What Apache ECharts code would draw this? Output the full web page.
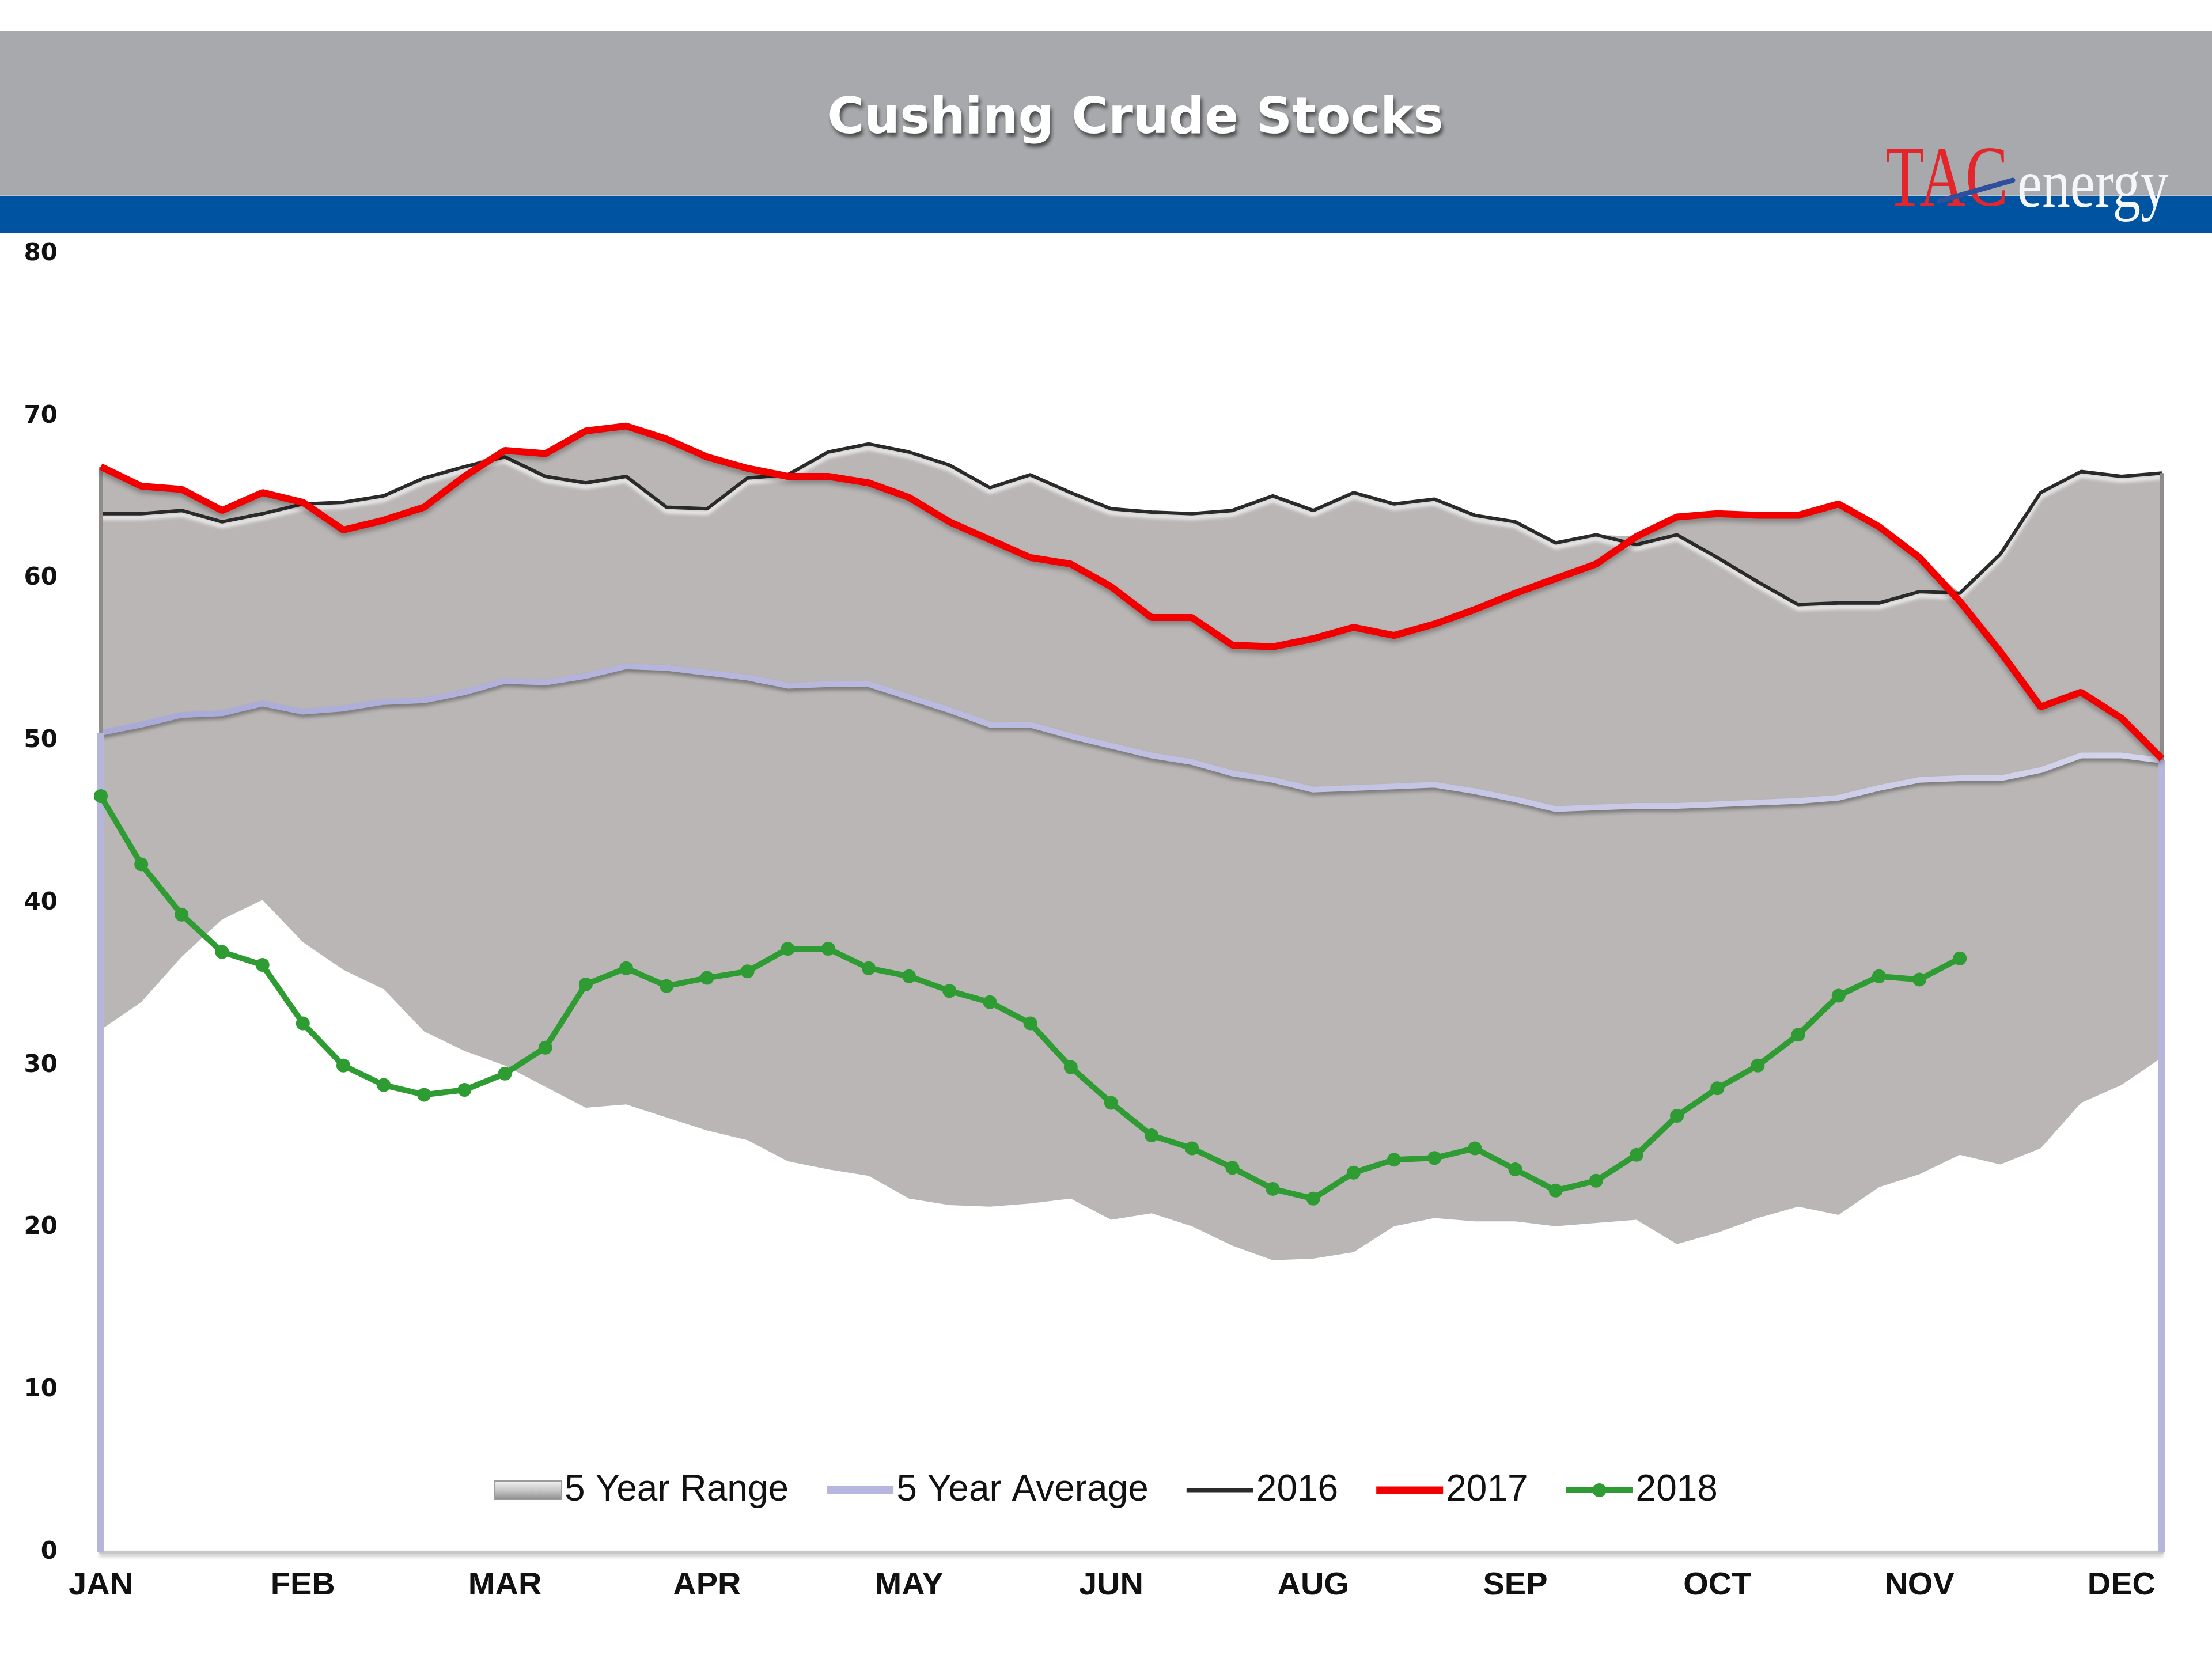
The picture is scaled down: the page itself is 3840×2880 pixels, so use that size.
<!DOCTYPE html>
<html>
<head>
<meta charset="utf-8">
<script src="https://cdn.jsdelivr.net/npm/echarts@6/dist/echarts.min.js"></script>
<style>
html,body{margin:0;padding:0;background:#ffffff;}
#chart{width:3840px;height:2880px;}
</style>
</head>
<body>
<div id="chart"></div>
<script>
// ---- data ----
const weeks = [
  '2018-01-05','2018-01-12','2018-01-19','2018-01-26','2018-02-02','2018-02-09','2018-02-16','2018-02-23',
  '2018-03-02','2018-03-09','2018-03-16','2018-03-23','2018-03-30','2018-04-06','2018-04-13','2018-04-20',
  '2018-04-27','2018-05-04','2018-05-11','2018-05-18','2018-05-25','2018-06-01','2018-06-08','2018-06-15',
  '2018-06-22','2018-06-29','2018-07-06','2018-07-13','2018-07-20','2018-07-27','2018-08-03','2018-08-10',
  '2018-08-17','2018-08-24','2018-08-31','2018-09-07','2018-09-14','2018-09-21','2018-09-28','2018-10-05',
  '2018-10-12','2018-10-19','2018-10-26','2018-11-02','2018-11-09','2018-11-16','2018-11-23','2018-11-30',
  '2018-12-07','2018-12-14','2018-12-21','2018-12-28'
];
const monthNames = ['JAN','FEB','MAR','APR','MAY','JUN','JUL','AUG','SEP','OCT','NOV','DEC'];
const yTicks = { min: 0, max: 80, step: 10 };

const rangeLow = [
  32.2,33.9,36.7,39.0,40.2,37.6,35.9,34.7,32.1,30.9,30.0,28.7,27.4,27.6,26.8,26.0,
  25.4,24.1,23.6,23.2,21.8,21.4,21.3,21.5,21.8,20.5,20.9,20.1,18.9,18.0,18.1,18.5,
  20.1,20.6,20.4,20.4,20.1,20.3,20.5,19.0,19.7,20.6,21.3,20.8,22.5,23.3,24.5,23.9,
  24.9,27.7,28.8,30.5
];
const rangeHigh = [
  66.9,65.7,65.5,64.2,65.3,64.7,64.7,65.1,66.2,66.9,67.9,67.7,69.1,69.4,68.6,67.5,
  66.8,66.4,67.8,68.3,67.8,67.0,65.6,66.4,65.3,64.3,64.1,64.0,64.2,65.1,64.2,65.3,
  64.6,64.9,63.9,63.5,62.2,62.7,62.6,63.8,64.0,63.9,63.9,64.6,63.2,61.3,59.1,61.5,
  65.3,66.6,66.3,66.5
];
const avg5 = [
  50.5,51.0,51.6,51.7,52.3,51.8,52.0,52.4,52.5,53.0,53.7,53.6,54.0,54.6,54.5,54.2,
  53.9,53.4,53.5,53.5,52.7,51.9,51.0,51.0,50.3,49.7,49.1,48.7,48.0,47.6,47.0,47.1,
  47.2,47.3,46.9,46.4,45.8,45.9,46.0,46.0,46.1,46.2,46.3,46.5,47.1,47.6,47.7,47.7,
  48.2,49.1,49.1,48.8
];
const y2016 = [
  64.0,64.0,64.2,63.5,64.0,64.6,64.7,65.1,66.2,66.9,67.5,66.3,65.9,66.3,64.4,64.3,
  66.2,66.4,67.8,68.3,67.8,67.0,65.6,66.4,65.3,64.3,64.1,64.0,64.2,65.1,64.2,65.3,
  64.6,64.9,63.9,63.5,62.2,62.7,62.1,62.7,61.3,59.8,58.4,58.5,58.5,59.2,59.1,61.5,
  65.3,66.6,66.3,66.5
];
const y2017 = [
  66.9,65.7,65.5,64.2,65.3,64.7,63.0,63.6,64.4,66.3,67.9,67.7,69.1,69.4,68.6,67.5,
  66.8,66.3,66.3,65.9,65.0,63.5,62.4,61.3,60.9,59.5,57.6,57.6,55.9,55.8,56.3,57.0,
  56.5,57.2,58.1,59.1,60.0,60.9,62.6,63.8,64.0,63.9,63.9,64.6,63.2,61.3,58.6,55.5,
  52.1,53.0,51.4,48.9
];
const y2018 = [
  46.6,42.4,39.3,37.0,36.2,32.6,30.0,28.8,28.2,28.5,29.5,31.1,35.0,36.0,34.9,35.4,
  35.8,37.2,37.2,36.0,35.5,34.6,33.9,32.6,29.9,27.7,25.7,24.9,23.7,22.4,21.8,23.4,
  24.2,24.3,24.9,23.6,22.3,22.9,24.5,26.9,28.6,30.0,31.9,34.3,35.5,35.3,36.6
];

// ---- chart ----
const chart = echarts.init(document.getElementById('chart'), null, { renderer: 'canvas' });
const rangeSpan = rangeHigh.map((h, i) => +(h - rangeLow[i]).toFixed(2));
const first = weeks[0], last = weeks[weeks.length - 1];
const n = weeks.length - 1;

// legend icon shapes (116 x 32 box)
const iconLine = (t) => 'path://M0,0M116,32M0,' + (16 - t / 2) + 'L116,' + (16 - t / 2) + 'L116,' + (16 + t / 2) + 'L0,' + (16 + t / 2) + 'Z';
const iconLineDot = 'path://M0,0M116,32M0,11L116,11L116,21L0,21Z M70,16 A12,12 0 1,1 46,16 A12,12 0 1,1 70,16Z';

const option = {
  animation: false,
  backgroundColor: '#ffffff',
  grid: { left: 175, right: 87, top: 441, bottom: 185, containLabel: false },
  graphic: [
    { type: 'rect', shape: { x: 0, y: 54, width: 3840, height: 286 }, style: { fill: '#A8A9AC' }, z: 0 },
    { type: 'rect', shape: { x: 0, y: 340, width: 3840, height: 64 }, style: { fill: '#0053A1' }, z: 0 },
    { type: 'rect', shape: { x: 0, y: 338, width: 3840, height: 3 }, style: { fill: '#B9C4D4' }, z: 1 },
    {
      type: 'text', x: 1971, y: 208, z: 5,
      style: {
        text: 'Cushing Crude Stocks', align: 'center', verticalAlign: 'middle',
        font: 'bold 87px "DejaVu Sans", sans-serif', fill: '#ffffff',
        textShadowColor: 'rgba(40,40,40,0.75)', textShadowBlur: 6, textShadowOffsetX: 3, textShadowOffsetY: 6
      }
    },
    {
      type: 'text', x: 3273, y: 318, scaleX: 0.74, z: 5,
      style: { text: 'TAC', align: 'left', verticalAlign: 'middle', font: '150px "Liberation Serif", serif', fill: '#E2262C' }
    },
    {
      type: 'text', x: 3502, y: 327, scaleX: 0.81, z: 5,
      style: { text: 'energy', align: 'left', verticalAlign: 'middle', font: '120px "Liberation Serif", serif', fill: '#F4F6FA' }
    },
    {
      type: 'line', z: 6,
      shape: { x1: 3367, y1: 349, x2: 3494, y2: 313 },
      style: { stroke: '#2D4F9C', lineWidth: 9, lineCap: 'round' }
    }
  ],
  legend: {
    show: true,
    left: 'center',
    top: 2550,
    itemWidth: 116,
    itemHeight: 32,
    itemGap: 66,
    textStyle: { fontSize: 64, color: '#111111', fontFamily: '"Liberation Sans Narrow", "Liberation Sans", sans-serif' },
    data: [
      { name: '5 Year Range', icon: 'rect',
        itemStyle: { color: new echarts.graphic.LinearGradient(0, 0, 0, 1, [
          { offset: 0, color: '#F4F4F4' }, { offset: 0.5, color: '#C8C8C8' }, { offset: 1, color: '#8A8A8A' }]),
          borderColor: '#9A9A9A', borderWidth: 2 } },
      { name: '5 Year Average', icon: iconLine(14), itemStyle: { color: '#B6B6DE', borderWidth: 0 } },
      { name: '2016', icon: iconLine(7), itemStyle: { color: '#2A2A2A', borderWidth: 0 } },
      { name: '2017', icon: iconLine(13), itemStyle: { color: '#F20000', borderWidth: 0 } },
      { name: '2018', icon: iconLineDot, itemStyle: { color: '#2E9B33', borderWidth: 0 } }
    ]
  },
  xAxis: {
    type: 'category',
    data: weeks,
    boundaryGap: false,
    axisLine: { show: true, lineStyle: { color: '#C6C6C6', width: 6, shadowColor: 'rgba(0,0,0,0.25)', shadowBlur: 6, shadowOffsetY: 4 } },
    axisTick: { show: false },
    splitLine: { show: false },
    axisLabel: {
      interval: 4,
      margin: 30,
      fontSize: 56,
      fontWeight: 'bold',
      color: '#111111',
      fontFamily: '"Liberation Sans Narrow", "Liberation Sans", sans-serif',
      formatter: (v) => monthNames[parseInt(v.slice(5, 7), 10) - 1]
    }
  },
  yAxis: {
    type: 'value',
    min: yTicks.min, max: yTicks.max, interval: yTicks.step,
    axisLine: { show: false },
    axisTick: { show: false },
    splitLine: { show: false },
    axisLabel: { margin: 75, fontSize: 42, fontWeight: 'bold', color: '#111111', fontFamily: '"DejaVu Sans", sans-serif' }
  },
  series: [
    {
      name: 'rangeBase', type: 'line', stack: 'range', data: rangeLow,
      symbol: 'none', silent: true, lineStyle: { width: 0, opacity: 0 }, z: 1,
      markLine: {
        silent: true, symbol: ['none', 'none'], label: { show: false },
        lineStyle: { color: '#8F8B8B', width: 8, type: 'solid' },
        data: [
          [{ coord: [first, rangeLow[0]] }, { coord: [first, rangeHigh[0]] }],
          [{ coord: [last, rangeLow[n]] }, { coord: [last, rangeHigh[n]] }]
        ]
      }
    },
    {
      name: '5 Year Range', type: 'line', stack: 'range', data: rangeSpan,
      symbol: 'none', silent: true, lineStyle: { width: 0, opacity: 0 },
      areaStyle: { color: '#BAB6B6', opacity: 1 }, itemStyle: { color: '#BAB6B6' }, z: 1
    },
    {
      name: '5 Year Average', type: 'line', data: avg5, symbol: 'none', z: 3,
      itemStyle: { color: '#B4B4DE' },
      lineStyle: {
        width: 10,
        color: new echarts.graphic.LinearGradient(0, 0, 1, 0, [{ offset: 0, color: '#A9A9D8' }, { offset: 1, color: '#D4D4EC' }]),
        shadowColor: 'rgba(0,0,0,0.35)', shadowBlur: 6, shadowOffsetY: 5
      },
      markLine: {
        silent: true, symbol: ['none', 'none'], label: { show: false },
        lineStyle: { color: '#B6B6DA', width: 12, type: 'solid' },
        data: [
          [{ coord: [first, 0] }, { coord: [first, avg5[0]] }],
          [{ coord: [last, 0] }, { coord: [last, avg5[n]] }]
        ]
      }
    },
    {
      name: '2016', type: 'line', data: y2016, symbol: 'none', z: 4,
      itemStyle: { color: '#2A2A2A' },
      lineStyle: { width: 6, color: '#2A2A2A', shadowColor: 'rgba(255,255,255,0.9)', shadowBlur: 6, shadowOffsetY: 7 }
    },
    {
      name: '2017', type: 'line', data: y2017, symbol: 'none', z: 5,
      itemStyle: { color: '#F20000' },
      lineStyle: { width: 12, color: '#F20000', shadowColor: 'rgba(0,0,0,0.3)', shadowBlur: 8, shadowOffsetY: 6 }
    },
    {
      name: '2018', type: 'line', data: y2018, symbol: 'circle', symbolSize: 24, showSymbol: true, z: 6,
      itemStyle: { color: '#2E9B33' },
      lineStyle: { width: 10, color: '#2E9B33' }
    }
  ]
};
chart.setOption(option);
</script>
</body>
</html>
